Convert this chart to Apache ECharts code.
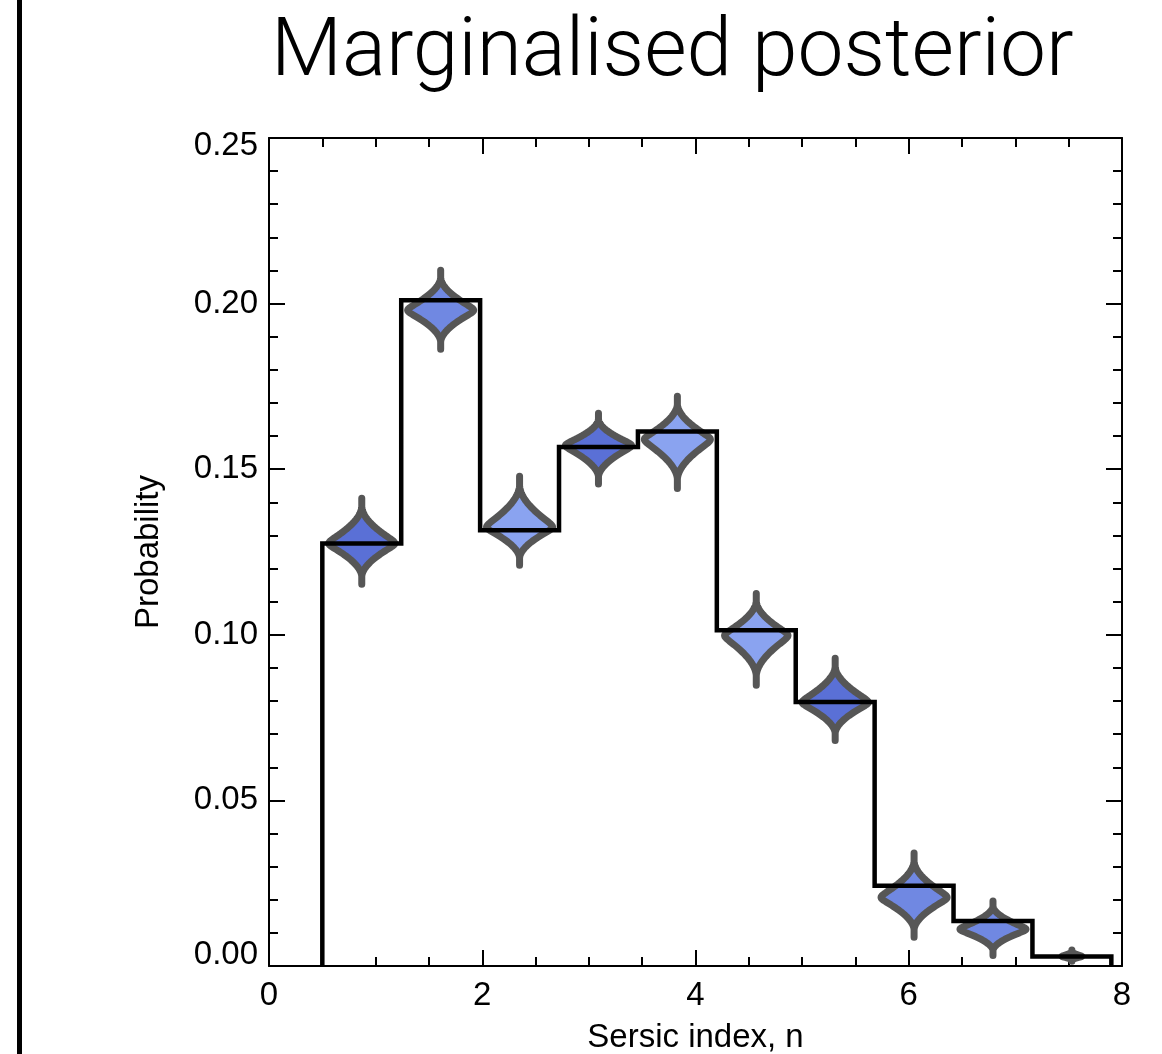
<!DOCTYPE html>
<html><head><meta charset="utf-8">
<script src="https://cdn.jsdelivr.net/npm/echarts/dist/echarts.min.js"></script>
<style>html,body{margin:0;padding:0;background:#fff}#c{width:1162px;height:1054px}</style>
</head><body><div id="c"></div>
<script>
// ---- data ----
const binEdges = [0.50, 1.24, 1.98, 2.72, 3.46, 4.20, 4.94, 5.68, 6.42, 7.16, 7.90];
const binProb = [0.1276, 0.2010, 0.1316, 0.1567, 0.1614, 0.1014, 0.0797, 0.0242, 0.0136, 0.0029];
const violinMedian = [0.1276, 0.1980, 0.1325, 0.1572, 0.1590, 0.0998, 0.0796, 0.0207, 0.0111, 0.0029];
const violinHigh = [0.1412, 0.2101, 0.1479, 0.1669, 0.1720, 0.1125, 0.0929, 0.0341, 0.0196, 0.0048];
const violinLow = [0.1153, 0.1862, 0.1210, 0.1455, 0.1442, 0.0848, 0.0681, 0.0087, 0.0032, 0.0014];
const violinPeak = [1.0, 1.0, 1.0, 1.0, 1.0, 0.96, 1.0, 1.0, 1.0, 0.3];
const xTicks = [0, 2, 4, 6, 8];
const yTicks = [0.00, 0.05, 0.10, 0.15, 0.20, 0.25];
const titleText = 'Marginalised posterior';
const xName = 'Sersic index, n';
const yName = 'Probability';

// ---- build series data ----
const stepData = [[binEdges[0], 0]];
binProb.forEach((p, i) => { stepData.push([binEdges[i], p]); stepData.push([binEdges[i + 1], p]); });
stepData.push([binEdges[binEdges.length - 1], 0]);
const violinData = violinMedian.map((m, i) => [(binEdges[i] + binEdges[i + 1]) / 2, m, violinLow[i], violinHigh[i], violinPeak[i]]);

const violinFill = ['#5a70d6', '#7088e2', '#8aa3f0', '#5a70d6', '#8aa3f0', '#8aa3f0', '#5a70d6', '#7088e2', '#7088e2', '#7088e2'];
const FONT = '"Liberation Sans", Arial, Helvetica, sans-serif';
const FS = 33;
const yMin = yTicks[0], yMax = yTicks[yTicks.length - 1];

const axisCommon = (isX, showLabel, pos) => ({
  type: 'value',
  position: pos,
  min: isX ? xTicks[0] : yMin,
  max: isX ? xTicks[xTicks.length - 1] : yMax,
  interval: isX ? xTicks[1] - xTicks[0] : yTicks[1] - yTicks[0],
  axisLine: { show: true, onZero: false, lineStyle: { color: '#000', width: 2 } },
  axisTick: { show: true, inside: true, length: 16, lineStyle: { color: '#000', width: 2 } },
  minorTick: { show: true, splitNumber: isX ? 4 : 5, length: 9, lineStyle: { color: '#000', width: 2 } },
  splitLine: { show: false },
  minorSplitLine: { show: false },
  axisLabel: {
    show: showLabel, color: '#000', fontSize: FS, fontFamily: FONT,
    margin: isX ? 13 : 11, showMinLabel: true, showMaxLabel: true,
    formatter: isX ? (v => String(v)) : (v => {
      const s = v.toFixed(2);
      if (Math.abs(v - yMin) < 1e-9) return '{lo|' + s + '}';
      if (Math.abs(v - yMax) < 1e-9) return '{hi|' + s + '}';
      return s;
    }),
    rich: isX ? undefined : {
      lo: { fontSize: FS, fontFamily: FONT, color: '#000', padding: [0, 0, 22, 0] },
      hi: { fontSize: FS, fontFamily: FONT, color: '#000', padding: [16, 0, 0, 0] }
    }
  }
});

const chart = echarts.init(document.getElementById('c'), null, { renderer: 'canvas' });
const option = {
  animation: false,
  backgroundColor: '#fff',
  title: {
    text: titleText, left: 266, top: 8,
    textStyle: { fontFamily: 'Roboto, "Liberation Sans", sans-serif', fontWeight: 300, fontSize: 82, color: '#000' }
  },
  graphic: [{ type: 'rect', shape: { x: 17, y: 0, width: 5, height: 1054 }, style: { fill: '#000' } }],
  grid: { left: 269, right: 40, top: 138, bottom: 88, containLabel: false, outerBoundsMode: 'none' },
  xAxis: [
    Object.assign(axisCommon(true, true, 'bottom'), {
      name: xName, nameLocation: 'middle', nameGap: 55,
      nameTextStyle: { color: '#000', fontSize: FS, fontFamily: FONT }
    }),
    axisCommon(true, false, 'top')
  ],
  yAxis: [
    Object.assign(axisCommon(false, true, 'left'), {
      name: yName, nameLocation: 'middle', nameGap: 104,
      nameTextStyle: { color: '#000', fontSize: FS, fontFamily: FONT }
    }),
    axisCommon(false, false, 'right')
  ],
  series: [
    {
      type: 'custom', xAxisIndex: 0, yAxisIndex: 0, clip: false, z: 3,
      encode: { x: 0, y: 1 },
      data: violinData,
      renderItem: function (params, api) {
        const i = params.dataIndex;
        const xc = api.value(0), c = api.value(1), lo = api.value(2), hi = api.value(3), pk = api.value(4);
        const W = 0.31 * pk;
        const Lu = (hi - c) * 0.76, Ld = (c - lo) * 0.76;
        const P = 1.8, E = 0.08;
        const prof = y => {
          const t0 = y < c ? (c - y) / Ld : (y - c) / Lu;
          const t = Math.sqrt(t0 * t0 + E * E) - E; // slightly blunt tip
          return t >= 1 ? 0 : W * Math.pow(1 - t, P);
        };
        const N = 50, right = [], left = [];
        const ys = [];
        for (let k = 0; k <= N; k++) ys.push(lo + (c - lo) * k / N);
        for (let k = 1; k <= N; k++) ys.push(c + (hi - c) * k / N);
        ys.forEach(y => right.push(api.coord([xc + prof(y), y])));
        for (let k = ys.length - 1; k >= 0; k--) left.push(api.coord([xc - prof(ys[k]), ys[k]]));
        return {
          type: 'polygon',
          shape: { points: right.concat(left) },
          style: { fill: violinFill[i], stroke: '#565656', lineWidth: 7, lineJoin: 'round', lineCap: 'round' }
        };
      }
    },
    {
      type: 'line', xAxisIndex: 0, yAxisIndex: 0, z: 5, clip: false,
      data: stepData, symbol: 'none', silent: true,
      lineStyle: { color: '#000', width: 4.5, join: 'miter', cap: 'butt' }
    }
  ]
};
chart.setOption(option);
</script>
</body></html>
